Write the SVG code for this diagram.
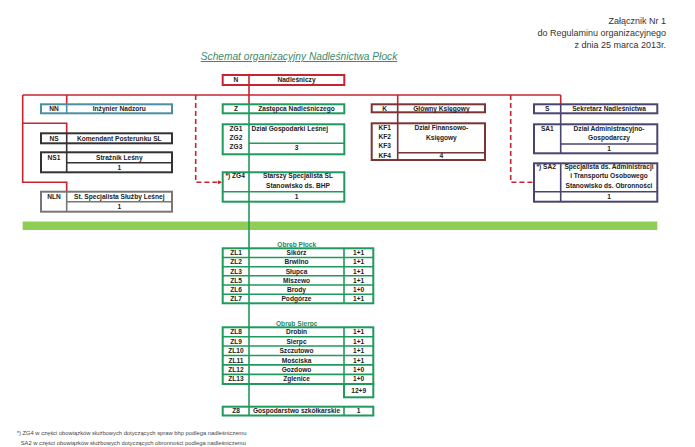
<svg xmlns="http://www.w3.org/2000/svg" width="695" height="447" viewBox="0 0 695 447">
<style>
text{font-family:"Liberation Sans",Arial,sans-serif;fill:#222}
.b{font-size:6.6px;font-weight:bold}
.c{text-anchor:middle}
.bx{fill:#fff;stroke-width:2}
.ln{fill:none;stroke-width:1.6}
.red{stroke:#c62430}
.grn{stroke:#1f9a5c}
.teal{stroke:#4a8fa3}
.blk{stroke:#333}
.gry{stroke:#777}
.brn{stroke:#7b3535}
.pur{stroke:#4b4470}
.hdr{font-size:9px;text-anchor:end;fill:#333}
.ob{font-size:6.6px;font-weight:bold;fill:#2a8a5a;text-anchor:middle}
.fn{font-size:5.8px;fill:#444}
</style>
<defs>
<marker id="dot" markerWidth="4" markerHeight="4" refX="3" refY="2" orient="auto" markerUnits="userSpaceOnUse"><path d="M0,0 L4,2 L0,4 Z" fill="#c62430"/></marker>
</defs>
<rect width="695" height="447" fill="#fff"/>
<g id="header">
<text class="hdr" x="666" y="24">Załącznik Nr 1</text>
<text class="hdr" x="666" y="36">do Regulaminu organizacyjnego</text>
<text class="hdr" x="666" y="48">z dnia 25 marca 2013r.</text>
<text x="299" y="60" text-anchor="middle" font-size="10.2" font-style="italic" style="fill:#3f8a6b" text-decoration="underline">Schemat organizacyjny Nadleśnictwa Płock</text>
</g>
<rect id="bar" x="22.7" y="221.5" width="634.6" height="8.5" fill="#8fce55"/>
<g id="connectors">
<path class="ln red" d="M249 85 V104.3"/>
<path class="ln red" d="M22.7 95 H560.7"/>
<path class="ln red" d="M22.7 95 V182.3 H66.7 V191.7"/>
<path class="ln red" d="M22.7 123.3 H66.7 V133.3"/>
<path class="ln red" d="M66.7 95 V104.3"/>
<path class="ln red" d="M397.7 95 V104.3"/>
<path class="ln red" d="M560.7 95 V104.3"/>
<path class="ln red" stroke-dasharray="5,3" d="M195.7 95 V182.3 H221" marker-end="url(#dot)"/>
<path class="ln red" stroke-dasharray="5,3" d="M510.7 95 V182.3 H532.5"/>
<path class="ln blk" d="M66.7 143.3 V152.3"/>
<path class="ln brn" d="M397.7 112.3 V123.3"/>
<path class="ln pur" d="M560.7 113.3 V124.3"/>
<path class="ln grn" d="M249 113.3 V406.7"/>
</g>
<g id="N">
<rect class="bx red" x="222.7" y="75" width="121.6" height="10"/>
<path class="ln red" d="M249 75 V85"/>
<text class="b c" x="236" y="82.3">N</text>
<text class="b c" x="296.5" y="82.3">Nadleśniczy</text>
</g>
<g id="NN">
<rect class="bx teal" x="41" y="104.3" width="131" height="9"/>
<path class="ln teal" d="M66.7 104.3 V113.3"/>
<text class="b c" x="54" y="111.2">NN</text>
<text class="b c" x="119.3" y="111.2">Inżynier Nadzoru</text>
</g>
<g id="NS">
<rect class="bx blk" x="41" y="133.3" width="131" height="10"/>
<path class="ln blk" d="M66.7 133.3 V143.3"/>
<text class="b c" x="54" y="140.6">NS</text>
<text class="b c" x="119.3" y="140.6">Komendant Posterunku SL</text>
</g>
<g id="NS1">
<rect class="bx blk" x="41" y="152.3" width="131" height="20"/>
<path class="ln blk" d="M66.7 152.3 V172.3 M66.7 162.7 H172"/>
<text class="b c" x="54" y="159.5">NS1</text>
<text class="b c" x="119.3" y="159.5">Strażnik Leśny</text>
<text class="b c" x="119.3" y="169.8">1</text>
</g>
<g id="NLN">
<rect class="bx gry" x="41" y="191.7" width="131" height="20"/>
<path class="ln gry" d="M66.7 191.7 V211.7 M66.7 201.7 H172"/>
<text class="b c" x="54" y="198.9">NLN</text>
<text class="b c" x="119.3" y="198.9">St. Specjalista Służby Leśnej</text>
<text class="b c" x="119.3" y="209">1</text>
</g>
<g id="Z">
<rect class="bx grn" x="222.7" y="104.3" width="121.6" height="9"/>
<path class="ln grn" d="M249 104.3 V113.3"/>
<text class="b c" x="236" y="111.2">Z</text>
<text class="b c" x="296.5" y="111.2">Zastępca Nadleśniczego</text>
</g>
<g id="ZG">
<rect class="bx grn" x="222.7" y="124.3" width="121.6" height="30"/>
<path class="ln grn" d="M249 124.3 V154.3 M249 143.3 H344.3"/>
<text class="b c" x="236" y="130.6">ZG1</text>
<text class="b c" x="236" y="139.8">ZG2</text>
<text class="b c" x="236" y="149.2">ZG3</text>
<text class="b" x="251.5" y="130.6">Dział Gospodarki Leśnej</text>
<text class="b c" x="296.5" y="149.8">3</text>
</g>
<g id="ZG4">
<rect class="bx grn" x="222.7" y="172.3" width="121.6" height="29.4"/>
<path class="ln grn" d="M249 172.3 V201.7 M222.7 191.7 H344.3"/>
<text class="b" x="225.5" y="178.2">*) ZG4</text>
<text class="b c" x="298" y="178.2">Starszy Specjalista SL</text>
<text class="b c" x="298" y="187.5">Stanowisko ds. BHP</text>
<text class="b c" x="296.5" y="199">1</text>
</g>
<g id="K">
<rect class="bx brn" x="371.7" y="104.3" width="113.3" height="8"/>
<path class="ln brn" d="M397.7 104.3 V112.3"/>
<text class="b c" x="384.7" y="110.7">K</text>
<text class="b c" x="441.4" y="110.7">Główny Księgowy</text>
</g>
<g id="KF">
<rect class="bx brn" x="371.7" y="123.3" width="113.3" height="36.7"/>
<path class="ln brn" d="M397.7 123.3 V160 M397.7 152.7 H485"/>
<text class="b c" x="384.7" y="130">KF1</text>
<text class="b c" x="384.7" y="139">KF2</text>
<text class="b c" x="384.7" y="148">KF3</text>
<text class="b c" x="384.7" y="158.4">KF4</text>
<text class="b c" x="441.4" y="130">Dział Finansowo-</text>
<text class="b c" x="441.4" y="139.6">Księgowy</text>
<text class="b c" x="441.4" y="158.4">4</text>
</g>
<g id="S">
<rect class="bx pur" x="534" y="104.3" width="123.3" height="9"/>
<path class="ln pur" d="M560.7 104.3 V113.3"/>
<text class="b c" x="547.3" y="111.2">S</text>
<text class="b c" x="609" y="111.2">Sekretarz Nadleśnictwa</text>
</g>
<g id="SA1">
<rect class="bx pur" x="534" y="124.3" width="123.3" height="29"/>
<path class="ln pur" d="M560.7 124.3 V153.3 M560.7 144 H657.3"/>
<text class="b c" x="547.3" y="130.6">SA1</text>
<text class="b c" x="609" y="130.6">Dział Administracyjno-</text>
<text class="b c" x="609" y="140">Gospodarczy</text>
<text class="b c" x="609" y="150.6">1</text>
</g>
<g id="SA2">
<rect class="bx pur" x="534" y="163.3" width="123.3" height="38.4"/>
<path class="ln pur" d="M560.7 163.3 V201.7 M534 191.7 H657.3"/>
<text class="b" x="536.5" y="169">*) SA2</text>
<text class="b c" x="609" y="169">Specjalista ds. Administracji</text>
<text class="b c" x="609" y="178.4">i Transportu Osobowego</text>
<text class="b c" x="609" y="188">Stanowisko ds. Obronności</text>
<text class="b c" x="609" y="199">1</text>
</g>
<g id="ObrebPlock">
<text class="ob" x="296.7" y="246.5">Obręb Płock</text>
<rect class="bx grn" x="222.7" y="248.3" width="150.6" height="55"/>
<path class="ln grn" d="M249 248.3 V303.3 M344 248.3 V303.3 M222.7 257.5 H373.3 M222.7 266.7 H373.3 M222.7 275.8 H373.3 M222.7 285 H373.3 M222.7 294.2 H373.3"/>
<text class="b c" x="236" y="255.2">ZL1</text><text class="b c" x="296.5" y="255.2">Sikórz</text><text class="b c" x="358.7" y="255.2">1+1</text>
<text class="b c" x="236" y="264.4">ZL2</text><text class="b c" x="296.5" y="264.4">Brwilno</text><text class="b c" x="358.7" y="264.4">1+1</text>
<text class="b c" x="236" y="273.6">ZL3</text><text class="b c" x="296.5" y="273.6">Słupca</text><text class="b c" x="358.7" y="273.6">1+1</text>
<text class="b c" x="236" y="282.7">ZL5</text><text class="b c" x="296.5" y="282.7">Miszewo</text><text class="b c" x="358.7" y="282.7">1+1</text>
<text class="b c" x="236" y="291.9">ZL6</text><text class="b c" x="296.5" y="291.9">Brody</text><text class="b c" x="358.7" y="291.9">1+0</text>
<text class="b c" x="236" y="301">ZL7</text><text class="b c" x="296.5" y="301">Podgórze</text><text class="b c" x="358.7" y="301">1+1</text>
</g>
<g id="ObrebSierpc">
<text class="ob" x="296.7" y="325.5">Obręb Sierpc</text>
<rect class="bx grn" x="222.7" y="327.3" width="150.6" height="56.7"/>
<rect class="bx grn" x="344" y="384" width="29.3" height="13.3"/>
<path class="ln grn" d="M249 327.3 V384 M344 327.3 V384 M222.7 336.7 H373.3 M222.7 346 H373.3 M222.7 355.5 H373.3 M222.7 364.9 H373.3 M222.7 374.4 H373.3"/>
<text class="b c" x="236" y="334.3">ZL8</text><text class="b c" x="296.5" y="334.3">Drobin</text><text class="b c" x="358.7" y="334.3">1+1</text>
<text class="b c" x="236" y="343.6">ZL9</text><text class="b c" x="296.5" y="343.6">Sierpc</text><text class="b c" x="358.7" y="343.6">1+1</text>
<text class="b c" x="236" y="353">ZL10</text><text class="b c" x="296.5" y="353">Szczutowo</text><text class="b c" x="358.7" y="353">1+1</text>
<text class="b c" x="236" y="362.5">ZL11</text><text class="b c" x="296.5" y="362.5">Mościska</text><text class="b c" x="358.7" y="362.5">1+1</text>
<text class="b c" x="236" y="371.9">ZL12</text><text class="b c" x="296.5" y="371.9">Gozdowo</text><text class="b c" x="358.7" y="371.9">1+0</text>
<text class="b c" x="236" y="381.4">ZL13</text><text class="b c" x="296.5" y="381.4">Zglenice</text><text class="b c" x="358.7" y="381.4">1+0</text>
<text class="b c" x="358.7" y="393">12+9</text>
</g>
<g id="Z8">
<rect class="bx grn" x="222.7" y="406.7" width="150.6" height="8.8"/>
<path class="ln grn" d="M249 406.7 V415.5 M344 406.7 V415.5"/>
<text class="b c" x="236" y="413.4">Z8</text>
<text class="b c" x="296.5" y="413.4">Gospodarstwo szkółkarskie</text>
<text class="b c" x="358.7" y="413.4">1</text>
</g>
<g id="footnotes">
<text class="fn" x="16.7" y="435.2">*) ZG4 w części obowiązków służbowych dotyczących spraw bhp podlega nadleśniczemu</text>
<text class="fn" x="20.7" y="444.6">SA2 w części obowiązków służbowych dotyczących obronności podlega nadleśniczemu</text>
</g>
</svg>
